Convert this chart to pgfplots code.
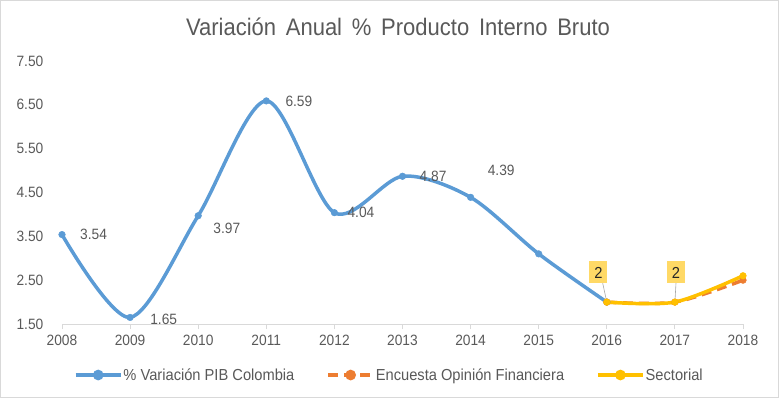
\documentclass[border=0pt]{standalone}
\usepackage{pgfplots}
\pgfplotsset{compat=1.18}
\usepackage{fontspec}
\setmainfont[FakeStretch=0.92]{Liberation Sans}
\newfontfamily\titlefont[FakeStretch=0.92, WordSpace=1.6]{Liberation Sans}
\definecolor{cblue}{HTML}{5B9BD5}
\definecolor{corange}{HTML}{ED7D31}
\definecolor{cyellow}{HTML}{FFC000}
\definecolor{cbox}{HTML}{FFD966}
\definecolor{ctext}{HTML}{595959}
\definecolor{cgrid}{HTML}{D9D9D9}
\begin{document}
\begin{tikzpicture}[x=1bp,y=1bp]
\begin{axis}[
  at={(0,0)}, anchor=origin,
  scale only axis, width=681bp, height=263bp,
  xmin=2008, xmax=2018, ymin=1.5, ymax=7.5,
  xtick={2008,...,2018}, ytick={1.5,2.5,...,7.5},
  axis x line=bottom, axis y line=left,
  axis line style={-},
  x axis line style={cgrid, line width=0.8bp},
  y axis line style={draw=none},
  xtick style={cgrid, line width=0.8bp},
  xtick align=outside, major tick length=5bp,
  ytick style={draw=none},
  /pgf/number format/assume math mode=true,
  xticklabel style={font=\fontsize{15}{17}\selectfont, text=ctext, /pgf/number format/1000 sep={}, inner sep=0bp, anchor=north, yshift=-6bp},
  yticklabel style={font=\fontsize{15}{17}\selectfont, text=ctext, /pgf/number format/fixed, /pgf/number format/fixed zerofill, /pgf/number format/precision=2, inner sep=0bp, anchor=east, xshift=-16bp},
  clip=false,
  legend columns=3,
  legend style={draw=none, at={(0.480,-0.194)}, anchor=center,
    font=\fontsize{16}{18}\selectfont, text=ctext, inner sep=0bp,
    nodes={inner sep=1bp},
    /tikz/every odd column/.append style={column sep=0bp},
    /tikz/every even column/.append style={column sep=31bp}},
  legend image code/.code={
    \draw[#1] (0bp,0bp) -- (45bp,0bp);
    \fill[#1, solid] (22.5bp,0bp) circle (3.5bp);
  },
]
\addplot[cblue, line width=3.5bp, smooth, tension=0.5, mark=*, mark size=3.3bp, mark options={fill=cblue, draw=cblue, line width=0.5bp}]
coordinates {(2008,3.54) (2009,1.65) (2010,3.97) (2011,6.59) (2012,4.04) (2013,4.87) (2014,4.39) (2015,3.10) (2016,2.00)};
\addlegendentry{\% Variación PIB Colombia}
\addplot[corange, line width=3.5bp, dash pattern=on 10bp off 6bp, smooth, tension=0.5, mark=*, mark size=3.3bp, mark options={fill=corange, draw=corange, solid, line width=0.5bp}]
coordinates {(2016,2.00) (2017,2.00) (2018,2.50)};
\addlegendentry{Encuesta Opinión Financiera}
\addplot[cyellow, line width=3.5bp, smooth, tension=0.5, mark=*, mark size=3.3bp, mark options={fill=cyellow, draw=cyellow, line width=0.5bp}]
coordinates {(2016,2.00) (2017,2.00) (2018,2.60)};
\addlegendentry{Sectorial}
% data labels
\begin{scope}[every node/.style={font=\fontsize{15}{17}\selectfont, text=ctext, anchor=west, inner sep=0bp}]
\node[xshift=18bp] at (axis cs:2008,3.54) {3.54};
\node[xshift=20bp, yshift=-1.5bp] at (axis cs:2009,1.65) {1.65};
\node[xshift=15bp, yshift=-13bp] at (axis cs:2010,3.97) {3.97};
\node[xshift=19bp] at (axis cs:2011,6.59) {6.59};
\node[xshift=13bp] at (axis cs:2012,4.04) {4.04};
\node[xshift=17bp] at (axis cs:2013,4.87) {4.87};
\node[xshift=17bp, yshift=27bp] at (axis cs:2014,4.39) {4.39};
\end{scope}
\draw[gray!70, line width=0.6bp] (axis cs:2016,2.0) -- (axis cs:2015.94,2.43);
\draw[gray!70, line width=0.6bp] (axis cs:2017,2.0) -- (axis cs:2017.016,2.43);
\node[fill=cbox, text=black!85, font=\fontsize{16}{18}\selectfont, inner sep=0bp, minimum width=18bp, minimum height=22bp] at (axis cs:2015.878,2.676) {2};
\node[fill=cbox, text=black!85, font=\fontsize{16}{18}\selectfont, inner sep=0bp, minimum width=18bp, minimum height=22bp] at (axis cs:2017.016,2.676) {2};
\end{axis}
\node[font=\titlefont\fontsize{24}{28}\selectfont, text=ctext] at (336bp,297.5bp) {Variación Anual \% Producto Interno Bruto};
\draw[cgrid, line width=1bp] (-61.5bp,-73.5bp) rectangle (716.5bp,323.5bp);
\useasboundingbox (-62bp,-74bp) rectangle (717bp,324bp);
\end{tikzpicture}
\end{document}
